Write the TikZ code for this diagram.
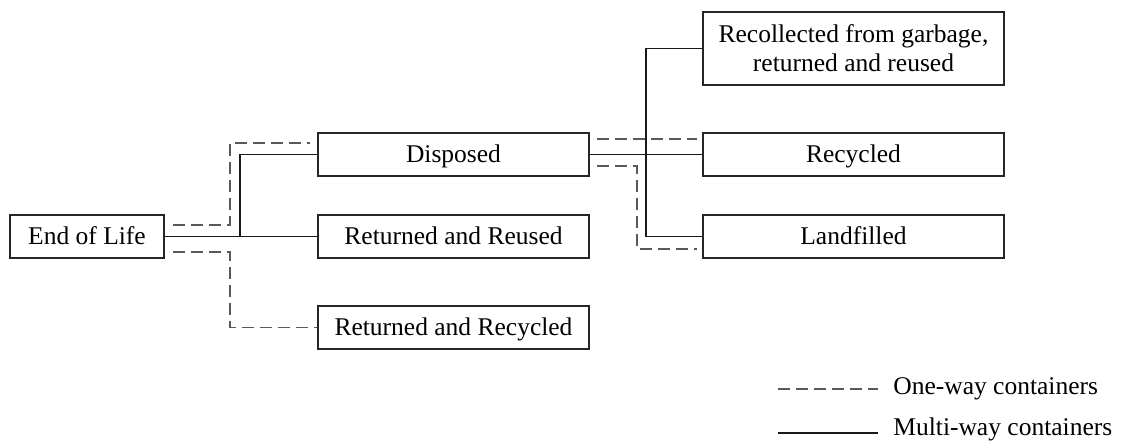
\documentclass[tikz,border=0pt]{standalone}
\usepackage{fontspec}
\setmainfont{Liberation Serif}
\begin{document}
\begin{tikzpicture}[x=0.5pt,y=-0.5pt,
  every node/.style={font=\fontsize{12.75}{15}\selectfont},
  box/.style={draw=black!85, line width=0.9pt, inner sep=0pt, align=center},
  line1/.style={text height=8.2pt, text depth=0pt},
  multi/.style={draw=black!90, line width=0.75pt},
  oneway/.style={draw=black!65, line width=0.9pt, dash pattern=on 6pt off 3pt}]
\useasboundingbox (0,0) rectangle (1121,442);

% boxes
\node[box, line1, minimum width=77pt, minimum height=21.5pt] (eol) at (87,236.5) {End of Life};
\node[box, line1, minimum width=135.5pt, minimum height=21.5pt] (disposed) at (453.5,154.5) {Disposed};
\node[box, line1, minimum width=135.5pt, minimum height=21.5pt] (reused) at (453.5,236.5) {Returned and Reused};
\node[box, line1, minimum width=135.5pt, minimum height=21.5pt] (retrecyc) at (453.5,327.5) {Returned and Recycled};
\node[box, minimum width=150.5pt, minimum height=36.5pt] (recoll) at (853.5,48.5)
  {Recollected from garbage,\\[-0.5pt] returned and reused};
\node[box, line1, minimum width=150.5pt, minimum height=21.5pt] (recyc) at (853.5,154.5) {Recycled};
\node[box, line1, minimum width=150.5pt, minimum height=21.5pt] (landf) at (853.5,236.5) {Landfilled};

% junctions and free end points
\coordinate (j1) at (240,236.5);
\coordinate (j2) at (646,236.5);
\coordinate (du0) at (173,225);
\coordinate (du1) at (310,143);
\coordinate (dl0) at (173,252);
\coordinate (dr0) at (597,139);
\coordinate (dr1) at (697,139);
\coordinate (ds0) at (597,166);
\coordinate (ds1) at (697,249);

% multi-way containers
\draw[multi] (eol.east) -- (reused.west);
\draw[multi] (j1) |- (disposed.west);
\draw[multi] (disposed.east) -- (recyc.west);
\draw[multi] (recoll.west) -| (j2) -- (landf.west);

% one-way containers
\draw[oneway] (du0) -| (230,143) -- (du1);
\draw[oneway] (dl0) -| (230,327.5) -- (retrecyc.west);
\draw[oneway] (dr0) -- (dr1);
\draw[oneway] (ds0) -| (637,249) -- (ds1);

% legend
\coordinate (la0) at (778,389);
\coordinate (la1) at (878,389);
\coordinate (lb0) at (778,433);
\coordinate (lb1) at (878,433);
\draw[oneway] (la0) -- (la1);
\draw[multi] (lb0) -- (lb1);
\node[anchor=base west, inner sep=0pt] (lega) at (893,395) {One-way containers};
\node[anchor=base west, inner sep=0pt] (legb) at (893,436) {Multi-way containers};
\end{tikzpicture}
\end{document}
